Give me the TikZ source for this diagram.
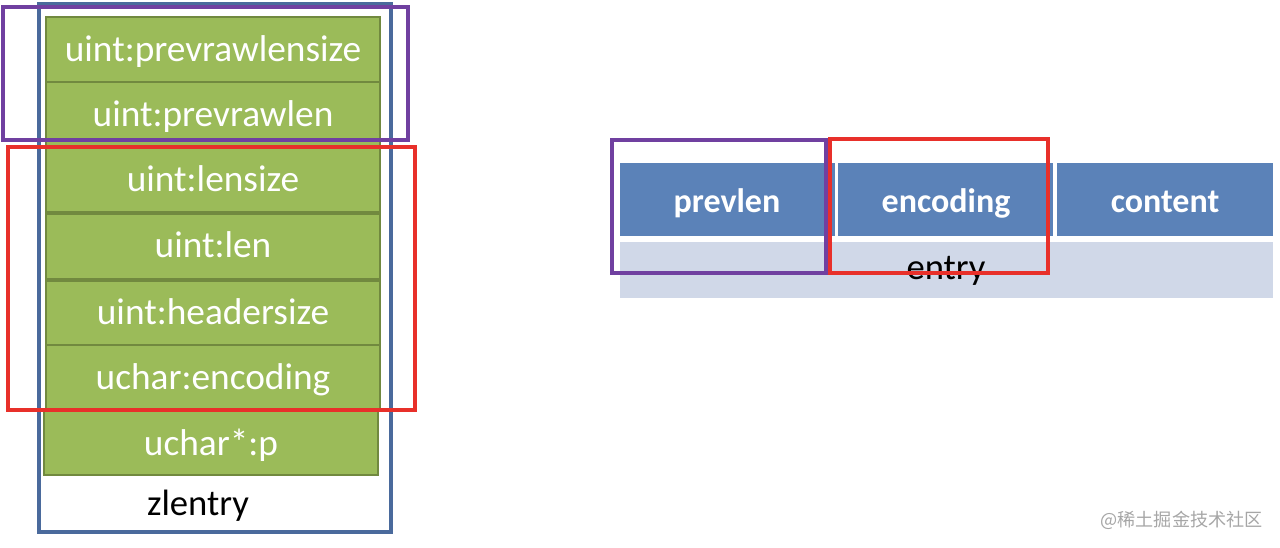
\documentclass[tikz,border=0pt]{standalone}
\usepackage{fontspec}
\setmainfont{Carlito}
\newfontfamily\cjk{Noto Sans CJK SC}
\definecolor{ggreen}{HTML}{9BBB59}
\definecolor{gborder}{HTML}{71893F}
\definecolor{bcell}{HTML}{5B82B8}
\definecolor{gbar}{HTML}{D0D8E8}
\definecolor{zblue}{HTML}{4A6A9C}
\definecolor{zpurple}{HTML}{7040A0}
\definecolor{zred}{HTML}{E8302A}
\tikzset{
  gbox/.style={fill=ggreen,draw=gborder,line width=0.8pt},
  gtext/.style={text=white,font=\fontsize{28}{32}\selectfont,inner sep=0pt,anchor=base},
  btext/.style={text=white,font=\bfseries\fontsize{25.5}{30}\selectfont,inner sep=0pt,anchor=base},
  ktext/.style={text=black,font=\fontsize{27.5}{32}\selectfont,inner sep=0pt,anchor=base},
  frameline/.style={line width=2.8pt}
}
\begin{document}
\begin{tikzpicture}[x=0.75pt,y=-0.75pt]
\useasboundingbox (0,0) rectangle (1280,548);
% left green stack
\path[gbox] (46,17) rectangle (380,82);
\node[gtext] (r1) at (213,62) {uint:prevrawlensize};
\path[gbox] (46,82) rectangle (380,147);
\node[gtext] (r2) at (213,127) {uint:prevrawlen};
\path[gbox] (46,147) rectangle (380,212);
\node[gtext] (r3) at (213,192) {uint:lensize};
\path[gbox] (46,214) rectangle (380,279);
\node[gtext] (r4) at (213,258) {uint:len};
\path[gbox] (46,281) rectangle (380,345);
\node[gtext] (r5) at (213,325) {uint:headersize};
\path[gbox] (46,345) rectangle (380,410);
\node[gtext] (r6) at (213,390) {uchar:encoding};
\path[gbox] (44,411) rectangle (378,475);
\node[gtext] (r7) at (211,455) {uchar*:p};
\node[ktext] (zl) at (198,515) {zlentry};
% frames left
\draw[frameline,zblue] (39,4) rectangle (391,532);
\draw[frameline,zpurple] (3,7) rectangle (408,140);
\draw[frameline,zred] (8,147) rectangle (415,410);
% right table
\fill[bcell] (620,163) rectangle (835,236);
\fill[bcell] (838,163) rectangle (1053,236);
\fill[bcell] (1057,163) rectangle (1273,236);
\fill[gbar] (620,242) rectangle (1273,298);
\node[btext] (c1) at (727,213) {prevlen};
\node[btext] (c2) at (946,213) {encoding};
\node[btext] (c3) at (1165,213) {content};
\node[ktext] (en) at (946,280) {entry};
\draw[frameline,zpurple] (612,140) rectangle (826,273);
\draw[frameline,zred] (830,139) rectangle (1048,273);
% watermark
\node[text=gray!70,font=\cjk\fontsize{13.6}{15}\selectfont,inner sep=0pt,anchor=east] (wm) at (1263,520) {@稀土掘金技术社区};
\end{tikzpicture}
\end{document}
